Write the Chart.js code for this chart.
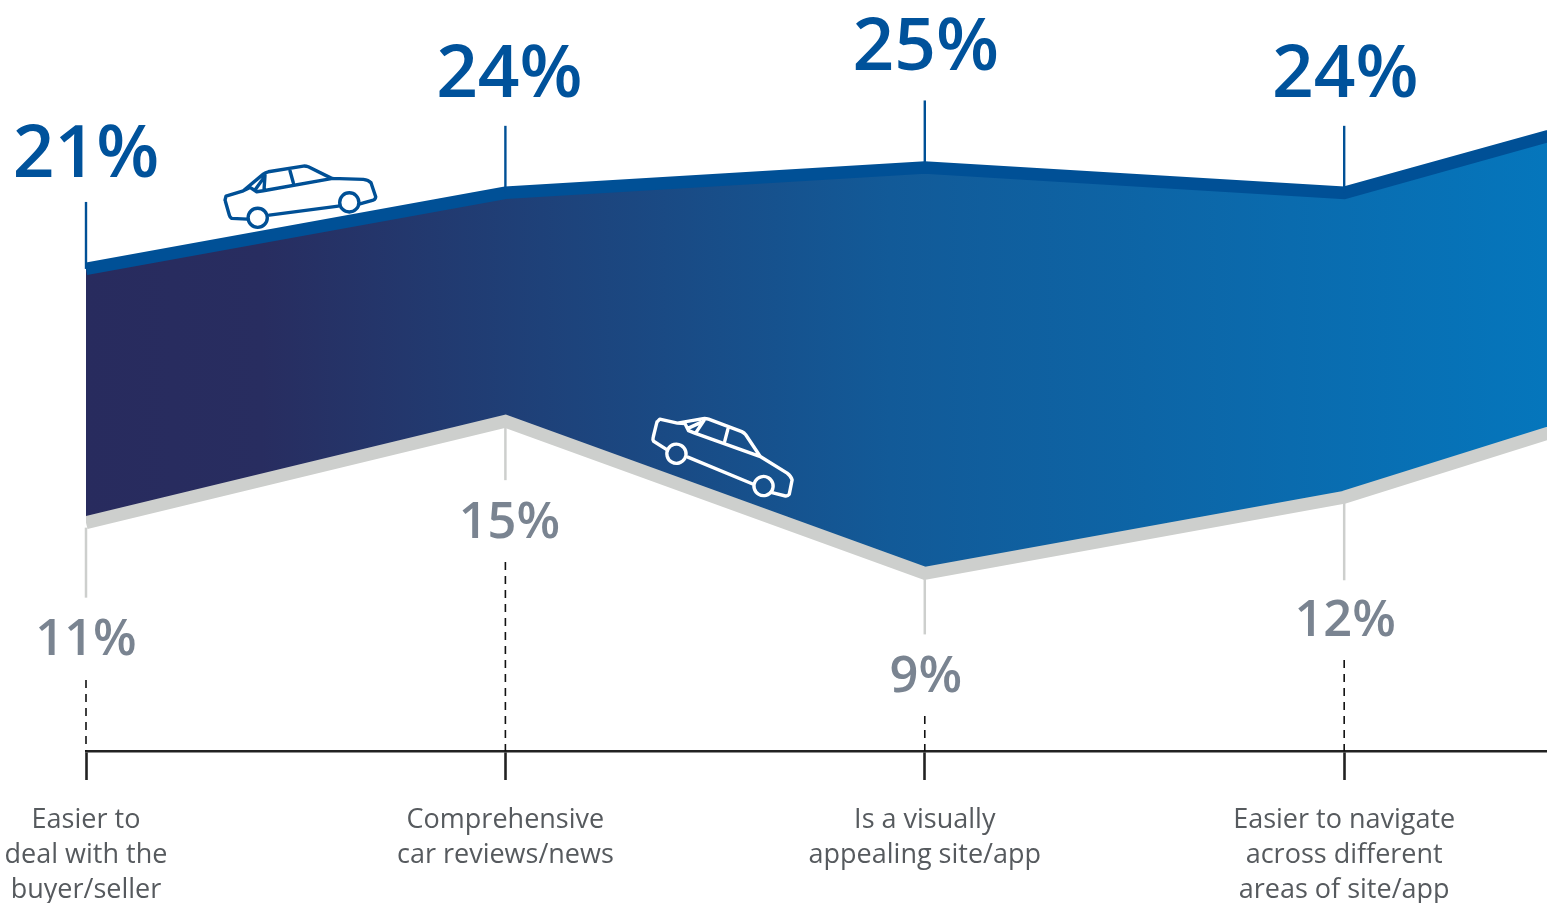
<!DOCTYPE html>
<html>
<head>
<meta charset="utf-8">
<title>Online car shopping priorities</title>
<script src="https://cdn.jsdelivr.net/npm/chart.js@4"></script>
<style>
  html, body { margin: 0; padding: 0; background: #fff; overflow: hidden; }
  canvas { display: block; }
</style>
</head>
<body>
<canvas id="chart" width="1547" height="903"></canvas>
<script>
// Attribute categories (the fifth continues past the right edge of the plot)
const categories = [
  ['Easier to', 'deal with the', 'buyer/seller'],
  ['Comprehensive', 'car reviews/news'],
  ['Is a visually', 'appealing site/app'],
  ['Easier to navigate', 'across different', 'areas of site/app'],
  []
];
const upperValues = [21, 24, 25, 24, 28.6];
const lowerValues = [11, 15, 9, 12, 17.2];
const labelledPoints = 4;

const BLUE = '#005096';
const BLUE_TEXT = '#00529b';
const GREY_BAND = '#cdcfcd';
const GREY_TEXT = '#7a8491';
const FONT = "'Open Sans'";

// Label placement relative to each point, in pixels
const upperLeader = 67;
const upperLabelShift = [-113, -117, -118, -117];
const lowerLeaderEnd = [75, 59, 61, 83];
const lowerLabelShift = [118, 102, 104, 124];
const labelNudge = [0, 4, 1, 1];
const dashStart = [680, 562, 716, 660];

// Car outline around the midpoint between its wheels, tilted 9.5 degrees nose-up
const CAR_TILT = -9.5;
const CAR_BODY = new Path2D(
  'M-78.5 -10 L-77.5 -14 L-60.2 -19.3 L-40.2 -36 Q-38 -37.6 -35.2 -38.3 L-0.2 -44 Q2.5 -44.2 4.8 -43.3 ' +
  'L28.2 -31.7 L59.8 -30.7 Q65 -30 67.5 -27.3 L72.2 -13.3 Q72 -11 69.8 -10 L55.5 -6 ' +
  'M-56.2 9 L-71.8 8.3 Q-73.6 7.4 -74.2 5 L-78.5 -10 ' +
  'M-34.2 5 L34.8 -4 ' +
  'M-60.2 -19.3 L-53.5 -22.7 L-46.8 -18.3 L-40.2 -19.3 L29.2 -31.7 ' +
  'M-38.5 -35 L-39.5 -20 M-13.5 -39.3 L-10.2 -27.3 M-40.2 -31.7 L-48.5 -20'
);
const WHEEL_X = 45.8;
const WHEEL_Y = 7.7;
const WHEEL_R = 9.6;

function drawCar(ctx, x, y, degrees, colour) {
  ctx.save();
  ctx.translate(x, y);
  ctx.rotate((degrees - CAR_TILT) * Math.PI / 180);
  ctx.strokeStyle = colour;
  ctx.lineWidth = 3.4;
  ctx.lineJoin = 'round';
  ctx.lineCap = 'round';
  ctx.stroke(CAR_BODY);
  ctx.beginPath();
  ctx.arc(-WHEEL_X, WHEEL_Y, WHEEL_R, 0, Math.PI * 2);
  ctx.moveTo(WHEEL_X + WHEEL_R, -WHEEL_Y);
  ctx.arc(WHEEL_X, -WHEEL_Y, WHEEL_R, 0, Math.PI * 2);
  ctx.stroke();
  ctx.restore();
}

const annotations = {
  id: 'annotations',
  afterDatasetsDraw(chart) {
    const { ctx, scales: { x, y } } = chart;
    ctx.save();
    ctx.textAlign = 'center';
    ctx.textBaseline = 'middle';
    for (let i = 0; i < labelledPoints; i++) {
      const px = x.getPixelForValue(i);
      const top = y.getPixelForValue(upperValues[i]);
      const low = y.getPixelForValue(lowerValues[i]);

      ctx.setLineDash([]);
      ctx.lineWidth = 2.4;
      ctx.strokeStyle = BLUE;
      ctx.beginPath();
      ctx.moveTo(px, top);
      ctx.lineTo(px, top - upperLeader);
      ctx.stroke();

      ctx.lineWidth = 2.5;
      ctx.strokeStyle = GREY_BAND;
      ctx.beginPath();
      ctx.moveTo(px, low + 5);
      ctx.lineTo(px, low + lowerLeaderEnd[i]);
      ctx.stroke();

      ctx.lineWidth = 1.6;
      ctx.strokeStyle = '#111';
      ctx.setLineDash([8, 6]);
      ctx.beginPath();
      ctx.moveTo(px, dashStart[i]);
      ctx.lineTo(px, y.bottom);
      ctx.stroke();

      ctx.fillStyle = BLUE_TEXT;
      ctx.font = `600 73px ${FONT}`;
      ctx.fillText(upperValues[i] + '%', px + labelNudge[i], top + upperLabelShift[i]);

      ctx.fillStyle = GREY_TEXT;
      ctx.font = `600 50.5px ${FONT}`;
      ctx.fillText(lowerValues[i] + '%', px + labelNudge[i], low + lowerLabelShift[i]);
    }
    ctx.restore();

    drawCar(ctx, x.getPixelForValue(0.5186), y.getPixelForValue(23.32), -9.5, BLUE);
    drawCar(ctx, x.getPixelForValue(1.5117), y.getPixelForValue(13.08), 20.4, '#fff');
  }
};

function bandGradient(context) {
  const { ctx, chartArea } = context.chart;
  if (!chartArea) return '#0f5c9c';
  const g = ctx.createLinearGradient(chartArea.left, 0, chartArea.right, 0);
  g.addColorStop(0, '#282b5e');
  g.addColorStop(0.12, '#282d60');
  g.addColorStop(0.55, '#125a98');
  g.addColorStop(1, '#0576bc');
  return g;
}

new Chart(document.getElementById('chart'), {
  type: 'line',
  data: {
    datasets: [
      {
        label: 'Upper',
        data: upperValues.map((v, i) => ({ x: i, y: v })),
        borderColor: BLUE,
        borderWidth: 12.5,
        backgroundColor: bandGradient,
        fill: { target: 1 },
        clip: 0,
        pointRadius: 0,
        tension: 0,
        borderJoinStyle: 'miter',
        borderCapStyle: 'butt'
      },
      {
        label: 'Lower',
        data: lowerValues.map((v, i) => ({ x: i, y: v })),
        borderColor: GREY_BAND,
        borderWidth: 13,
        fill: false,
        clip: 0,
        pointRadius: 0,
        tension: 0,
        borderJoinStyle: 'miter',
        borderCapStyle: 'butt'
      }
    ]
  },
  options: {
    responsive: false,
    animation: false,
    layout: { padding: { left: 86, right: 0, top: 0, bottom: 0 } },
    plugins: {
      legend: { display: false },
      tooltip: { enabled: false },
      filler: { drawTime: 'beforeDatasetsDraw' }
    },
    scales: {
      x: {
        type: 'linear',
        min: 0,
        max: 3.4836,
        afterBuildTicks(scale) {
          scale.ticks = [0, 1, 2, 3].map(value => ({ value }));
        },
        afterFit(scale) {
          scale.height = 152;
          scale.paddingLeft = 0;
          scale.paddingRight = 0;
        },
        border: { display: true, color: '#222', width: 2.4 },
        grid: {
          drawOnChartArea: false,
          drawTicks: true,
          tickLength: 29,
          tickColor: '#222',
          tickWidth: 2.6
        },
        ticks: {
          autoSkip: false,
          maxRotation: 0,
          minRotation: 0,
          padding: 23,
          color: '#565a5e',
          font: { family: FONT, size: 27, lineHeight: 1.296 },
          callback: value => categories[value]
        }
      },
      y: {
        display: false,
        min: 2,
        max: 31.6
      }
    }
  },
  plugins: [annotations]
});
</script>
</body>
</html>
